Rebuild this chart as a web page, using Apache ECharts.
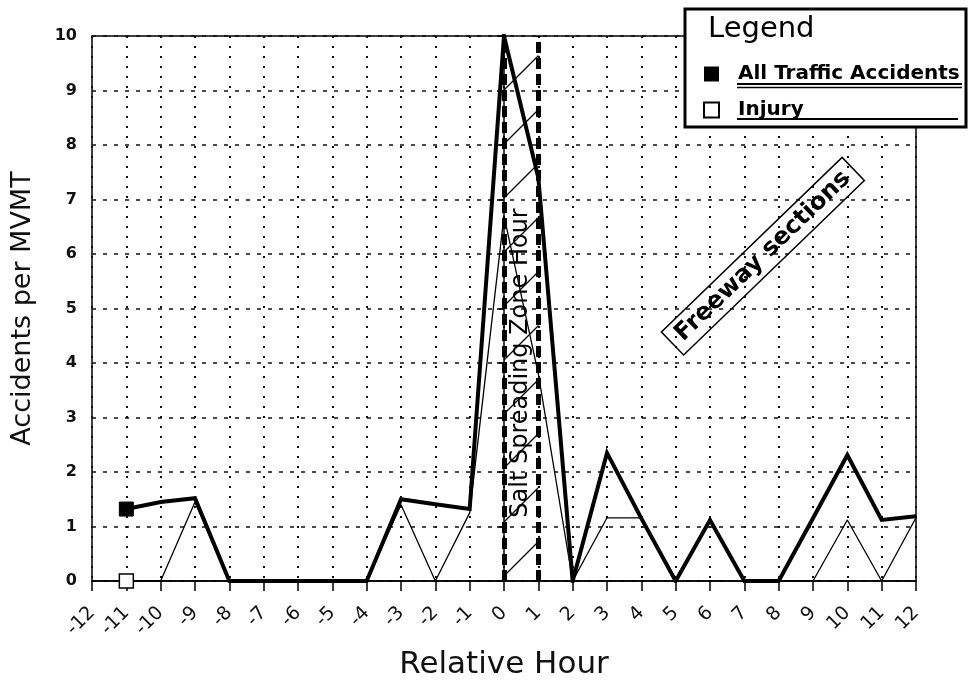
<!DOCTYPE html>
<html>
<head>
<meta charset="utf-8">
<script src="https://cdn.jsdelivr.net/npm/echarts@6/dist/echarts.min.js"></script>
<style>html,body{margin:0;padding:0;background:#fff;}#main{width:972px;height:686px;}</style>
</head>
<body>
<div id="main"></div>
<script>
// ---- data ----
const hours = [-11,-10,-9,-8,-7,-6,-5,-4,-3,-2,-1,0,1,2,3,4,5,6,7,8,9,10,11,12];
const allTraffic = [1.32,1.45,1.52,0,0,0,0,0,1.5,1.41,1.32,10,7.4,0,2.35,1.15,0,1.12,0,0,1.15,2.31,1.12,1.19];
const injury = [0,0,1.45,0,0,0,0,0,1.4,0,1.25,6.7,3.8,0,1.16,1.16,0,1.12,0,0,0,1.12,0,1.16];
const zoneStart = 0, zoneEnd = 1;
const seriesNames = ['All Traffic Accidents', 'Injury'];
const legendTitle = 'Legend';
const zoneLabel = 'Salt Spreading Zone Hour';
const zoneLabelAt = [0.5, 4.0];
const sectionLabel = 'Freeway sections';
const sectionLabelAt = [7.54, 5.96];
const xAxisName = 'Relative Hour';
const yAxisName = 'Accidents per MVMT';

// hatch pattern
const pc = document.createElement('canvas');
pc.width = 54; pc.height = 54;
const pctx = pc.getContext('2d');
pctx.strokeStyle = '#000'; pctx.lineWidth = 1.3;
pctx.beginPath();
pctx.moveTo(-2,56); pctx.lineTo(56,-2);
pctx.moveTo(-6,6); pctx.lineTo(6,-6);
pctx.moveTo(48,60); pctx.lineTo(60,48);
pctx.stroke();

function buildData(vals, filled) {
  return hours.map((h, i) => i === 0
    ? { value: [h, vals[i]], symbol: 'rect', symbolSize: 14,
        itemStyle: filled ? { color: '#000', borderColor: '#000' } : { color: '#fff', borderColor: '#000', borderWidth: 1.5 } }
    : { value: [h, vals[i]], symbol: 'none' });
}

const chart = echarts.init(document.getElementById('main'), null, { renderer: 'canvas' });
const F = 'DejaVu Sans';
const option = {
  animation: false,
  backgroundColor: '#fff',
  grid: { left: 92, right: 56, top: 36, bottom: 105, show: true, borderColor: '#000', borderWidth: 1.5 },
  xAxis: {
    type: 'value', min: -12, max: 12, interval: 1,
    name: xAxisName, nameLocation: 'middle', nameGap: 68,
    nameTextStyle: { fontFamily: F, fontSize: 31, color: '#111' },
    axisLine: { onZero: false, lineStyle: { color: '#000', width: 1.5 } },
    axisTick: { length: 10, lineStyle: { color: '#000', width: 1.5 } },
    axisLabel: { rotate: 45, margin: 29, fontFamily: F, fontSize: 19, color: '#111', formatter: v => String(v) },
    splitLine: { show: true, lineStyle: { color: '#111', width: 2, type: [2, 8] } }
  },
  yAxis: {
    type: 'value', min: 0, max: 10, interval: 1,
    name: yAxisName, nameLocation: 'middle', nameGap: 56,
    nameTextStyle: { fontFamily: F, fontSize: 27, color: '#111' },
    axisLine: { show: true, lineStyle: { color: '#000', width: 1.5 } },
    axisTick: { show: true, length: 7, lineStyle: { color: '#000', width: 1.5 } },
    axisLabel: { margin: 15, fontFamily: F, fontWeight: 'bold', fontSize: 16, color: '#111' },
    splitLine: { show: true, lineStyle: { color: '#111', width: 1.5, type: [4, 7] } }
  },
  legend: {
    orient: 'vertical', left: 703, top: 63, padding: 0, itemWidth: 15, itemHeight: 15, itemGap: 14,
    z: 6, selectedMode: false,
    textStyle: { fontFamily: F, fontWeight: 'bold', fontSize: 20, color: '#000', lineHeight: 22, padding: [0, 0, 0, 14] },
    data: [
      { name: seriesNames[0], icon: 'rect', itemStyle: { color: '#000', borderColor: '#000', borderWidth: 0 } },
      { name: seriesNames[1], icon: 'rect', itemStyle: { color: '#fff', borderColor: '#000', borderWidth: 2 } }
    ]
  },
  series: [
    {
      name: seriesNames[1], type: 'line', z: 3,
      data: buildData(injury, false),
      lineStyle: { color: '#000', width: 1.3 }, itemStyle: { color: '#fff', borderColor: '#000' },
      showSymbol: true, symbol: 'none'
    },
    {
      name: seriesNames[0], type: 'line', z: 4,
      data: buildData(allTraffic, true),
      lineStyle: { color: '#000', width: 4, join: 'miter' }, itemStyle: { color: '#000' },
      showSymbol: true, symbol: 'none',
      markArea: {
        silent: true,
        itemStyle: { color: { image: pc, repeat: 'repeat' } },
        data: [[{ xAxis: zoneStart }, { xAxis: zoneEnd }]]
      },
      markLine: {
        silent: true, symbol: 'none', label: { show: false },
        lineStyle: { color: '#000', width: 5, type: [11, 5] },
        data: [{ xAxis: zoneStart }, { xAxis: zoneEnd }]
      }
    }
  ]
};
chart.setOption(option);

const zp = chart.convertToPixel({ gridIndex: 0 }, zoneLabelAt);
const sp = chart.convertToPixel({ gridIndex: 0 }, sectionLabelAt);
chart.setOption({
  graphic: [
    { type: 'rect', z: 5, shape: { x: 685, y: 9, width: 281, height: 118 },
      style: { fill: '#fff', stroke: '#000', lineWidth: 3 } },
    { type: 'text', z: 7, x: 708, y: 15,
      style: { text: legendTitle, font: '29px "DejaVu Sans"', fill: '#000' } },
    { type: 'line', z: 7, shape: { x1: 737, y1: 84, x2: 962, y2: 84 }, style: { stroke: '#000', lineWidth: 2 } },
    { type: 'line', z: 7, shape: { x1: 737, y1: 87.5, x2: 962, y2: 87.5 }, style: { stroke: '#000', lineWidth: 1.5 } },
    { type: 'line', z: 7, shape: { x1: 737, y1: 119, x2: 958, y2: 119 }, style: { stroke: '#000', lineWidth: 2 } },
    { type: 'text', z: 8, x: zp[0], y: zp[1], rotation: Math.PI / 2,
      style: { text: zoneLabel, font: '24px "DejaVu Sans"', fill: '#000', align: 'center', verticalAlign: 'middle' } },
    { type: 'text', z: 8, x: sp[0], y: sp[1], rotation: 44 * Math.PI / 180,
      style: { text: sectionLabel, font: 'bold 24px "DejaVu Sans"', fill: '#000', align: 'center', verticalAlign: 'middle',
               borderColor: '#000', borderWidth: 1.5, padding: [4, 9, 4, 9] } }
  ]
});
</script>
</body>
</html>
